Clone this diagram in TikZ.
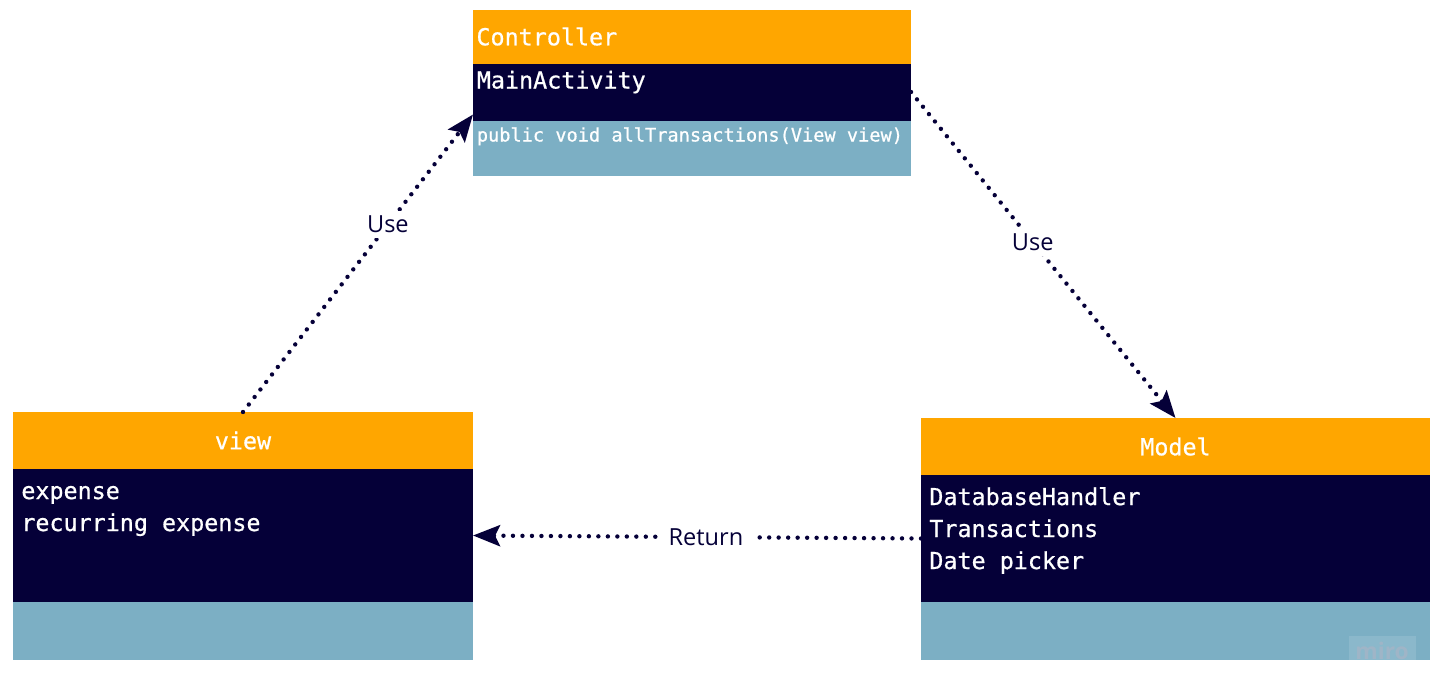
\documentclass[tikz,border=0pt]{standalone}
\usepackage{fontspec}
\setmainfont{Open Sans}
\newfontfamily\classfont{DejaVu Sans Mono}[FakeBold=0.7]
\usepackage{xcolor}
\usetikzlibrary{arrows.meta,positioning,calc}
\definecolor{MiroNaranja}{RGB}{255,166,0}
\definecolor{MiroMarino}{RGB}{5,0,56}
\definecolor{MiroCeleste}{RGB}{124,175,196}

\tikzset{
  headbox/.style={fill=MiroNaranja,text=white,inner sep=0pt,outer sep=0pt,font=\classfont\fontsize{13.3}{16}\selectfont},
  bodybox/.style={fill=MiroMarino,inner sep=0pt,outer sep=0pt},
  footbox/.style={fill=MiroCeleste,inner sep=0pt,outer sep=0pt},
  member/.style={text=white,inner sep=0pt,align=left,font=\classfont\fontsize{13.3}{18.2}\selectfont},
  link/.style={MiroMarino,line width=2.5pt,line cap=round,dash pattern=on 0pt off 5.4pt},
  tag/.style={fill=white,text=MiroMarino,inner xsep=6pt,inner ysep=3pt,font=\fontsize{13.4}{16}\selectfont}
}

\begin{document}
\begin{tikzpicture}[>={Stealth[length=0.54cm,width=0.42cm,inset=0.1cm]}]
  \useasboundingbox (0,0) rectangle (28.78,-13.88);
  % Controller
  \node[headbox,minimum width=8.76cm,minimum height=1.08cm,text width=8.62cm,align=left,anchor=north west] (ctrl-head) at (9.46,-0.19) {Controller};
  \node[bodybox,minimum width=8.76cm,minimum height=1.14cm,below=0pt of ctrl-head] (ctrl-body) {};
  \node[footbox,minimum width=8.76cm,minimum height=1.1cm,below=0pt of ctrl-body] (ctrl-foot) {};
  \node[member,anchor=base west] (ctrl-attr) at ([shift={(0.07,-0.5)}]ctrl-body.north west) {MainActivity};
  \node[member,font=\classfont\fontsize{10.6}{13}\selectfont,anchor=base west] (ctrl-meth) at ([shift={(0.07,-0.42)}]ctrl-foot.north west) {public void allTransactions(View view)};
  % view
  \node[headbox,minimum width=9.2cm,minimum height=1.14cm,anchor=north west] (view-head) at (0.26,-8.24) {view};
  \node[bodybox,minimum width=9.2cm,minimum height=2.66cm,below=0pt of view-head] (view-body) {};
  \node[footbox,minimum width=9.2cm,minimum height=1.16cm,below=0pt of view-body] (view-foot) {};
  % base = last line
  \node[member,anchor=base west] (view-attr) at ([shift={(0.16,-1.24)}]view-body.north west) {expense\\recurring expense};
  % Model
  \node[headbox,minimum width=10.18cm,minimum height=1.14cm,anchor=north west] (model-head) at (18.42,-8.36) {Model};
  \node[bodybox,minimum width=10.18cm,minimum height=2.54cm,below=0pt of model-head] (model-body) {};
  \node[footbox,minimum width=10.18cm,minimum height=1.16cm,below=0pt of model-body] (model-foot) {};
  \node[member,anchor=base west] (model-attr) at ([shift={(0.16,-1.88)}]model-body.north west) {DatabaseHandler\\Transactions\\Date picker};
  \begin{scope}
    \clip (model-foot.south west) rectangle (model-foot.north east);
    \node[fill=white,fill opacity=0.12,text opacity=1,text=MiroCeleste!75!MiroMarino!60!white,minimum width=1.34cm,minimum height=0.6cm,font=\bfseries\fontsize{13}{15}\selectfont,anchor=north east] (miro) at ([shift={(-0.28,0.48)}]model-foot.south east) {\raisebox{0.12cm}{miro}};
  \end{scope}
  % connectors
  \draw[link,->] (view-head.north) -- node[tag,pos=0.63] (use-view) {Use} ([yshift=0.12cm]ctrl-body.south west);
  \draw[link,->] (ctrl-body.east) -- node[tag,pos=0.46] (use-model) {Use} (model-head.north);
  \draw[link,->] (model-body.west) -- node[tag,pos=0.48] (return) {Return} (view-body.east);
\end{tikzpicture}
\end{document}
